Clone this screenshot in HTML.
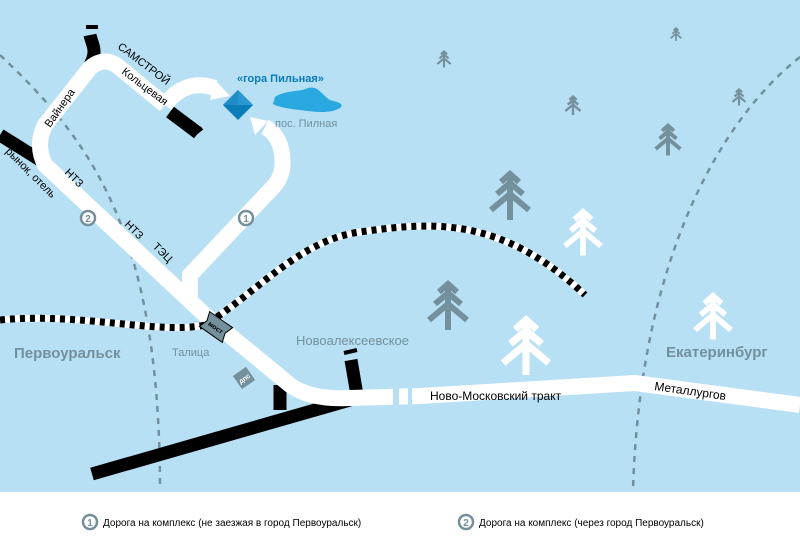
<!DOCTYPE html>
<html><head><meta charset="utf-8"><style>
body{margin:0;width:800px;height:555px;overflow:hidden;background:#fff}
svg{display:block}
text{font-family:"Liberation Sans",sans-serif}
</style></head><body>
<svg width="800" height="555" viewBox="0 0 800 555" xmlns="http://www.w3.org/2000/svg">
<defs>
<g id="tr"><path d="M0,4V50M-9,12L0,4L9,12M-13,24L0,13L13,24M-19,40L0,24L19,40" fill="none" stroke-width="6"/></g>
</defs>
<rect x="0" y="0" width="800" height="492" fill="#b7e0f4"/>
<!-- dashed boundaries -->
<g fill="none" stroke="#74909c" stroke-width="2.5" stroke-dasharray="6,6">
<path d="M0,55 C90,140 160,230 160,490"/>
<path d="M800,57 C720,120 640,260 633,490"/>
</g>
<!-- black roads -->
<g stroke="#000" stroke-width="13" fill="none">
<path d="M90,35 C92,45 98,50 90,65"/>
<path d="M0,135 L40,160"/>
<path d="M170,112 L198,133"/>
<path d="M92,474 L350,400"/>
<path d="M280,410 L280,385"/>
<path d="M357,395 L351,360"/>
</g>
<g stroke="#000" stroke-width="4">
<path d="M86,27 L98,27"/><path d="M192,136 L202,128"/><path d="M344,353 L357,350"/>
</g>
<!-- white roads -->
<g stroke="#fff" stroke-width="16" fill="none" stroke-linejoin="round">
<path d="M165,105 L120,68 Q105,55 90,68 L45,125 Q35,145 45,165 L205,315 L290,385 Q310,400 350,398 L420,396 L635,383 L800,405"/>
<path d="M165,105 Q185,78 215,88"/>
<path d="M190,300 L190,275 L275,185 Q287,170 280,145 Q275,132 265,127"/>
</g>
<path d="M215,80 L230,96 L210,100Z" fill="#fff"/>
<path d="M250,117 L255,135 L268,121Z" fill="#fff"/>
<!-- road gaps -->
<rect x="393" y="386" width="6" height="20" fill="#b7e0f4"/>
<rect x="408" y="386" width="4" height="20" fill="#b7e0f4"/>
<!-- railway -->
<path d="M0,320 C80,312 160,335 205,325 C260,290 300,240 360,232 C430,222 500,215 585,295" fill="none" stroke="#fff" stroke-width="7"/>
<path d="M0,320 C80,312 160,335 205,325 C260,290 300,240 360,232 C430,222 500,215 585,295" fill="none" stroke="#000" stroke-width="7" stroke-dasharray="5,5"/>
<!-- bridge -->
<g transform="translate(216,327) rotate(35)">
<path d="M-14,-9 L14,-9 L11,0 L14,9 L-14,9 L-11,0Z" fill="#74909c" stroke="#000" stroke-width="1"/>
<text x="0" y="3" font-size="7" font-weight="bold" text-anchor="middle" fill="#000">мост</text>
</g>
<g transform="translate(244,378) rotate(-35)">
<rect x="-8" y="-8" width="16" height="16" fill="#74909c"/>
<text x="0" y="3" font-size="7" font-weight="bold" text-anchor="middle" fill="#fff">дпс</text>
</g>
<!-- diamond -->
<path d="M238,90 L253,105 L238,120 L223,105Z" fill="#0a7cb8"/>
<path d="M238,90 L253,105 L238,105Z" fill="#2a98d0"/>
<path d="M238,90 L223,105 L238,105Z" fill="#1f8dc8"/>
<!-- lake -->
<path d="M275,97 C285,90 300,92 308,88 C318,85 322,95 330,100 C338,102 345,104 340,108 C330,114 315,112 300,110 C290,109 278,107 273,104Z" fill="#2aa8e0"/>
<!-- trees -->
<g stroke="#74909c">
<use href="#tr" transform="translate(510,170) scale(1)"/>
<use href="#tr" transform="translate(448,280) scale(1)"/>
<use href="#tr" transform="translate(668,123) scale(0.65)"/>
<use href="#tr" transform="translate(573,95) scale(0.4)"/>
<use href="#tr" transform="translate(444,50) scale(0.35)"/>
<use href="#tr" transform="translate(676,27) scale(0.28)"/>
<use href="#tr" transform="translate(739,88) scale(0.35)"/>
</g>
<g stroke="#fff">
<use href="#tr" transform="translate(583,208) scale(0.95)"/>
<use href="#tr" transform="translate(526,315) scale(1.2)"/>
<use href="#tr" transform="translate(713,292) scale(0.95)"/>
</g>
<!-- labels -->
<g font-size="11" fill="#000">
<text transform="translate(117,48) rotate(37)">САМСТРОЙ</text>
<text transform="translate(121,73) rotate(37)">Кольцевая</text>
<text transform="translate(50,128) rotate(-55)">Вайнера</text>
<text transform="translate(5,152) rotate(45)">рынок, отель</text>
<text transform="translate(64,173) rotate(45)">НТЗ</text>
<text transform="translate(124,225) rotate(45)">НТЗ</text>
<text transform="translate(152,247) rotate(45)">ТЭЦ</text>
<text x="430" y="400" font-size="12">Ново-Московский тракт</text>
<text transform="translate(654,390) rotate(8)" font-size="12">Металлургов</text>
</g>
<text x="237" y="82" font-size="11" font-weight="bold" fill="#0a7cb8">«гора Пильная»</text>
<text x="275" y="127" font-size="11" fill="#74909c">пос. Пилная</text>
<text x="296" y="345" font-size="13" fill="#74909c">Новоалексеевское</text>
<text x="172" y="356" font-size="11" fill="#74909c">Талица</text>
<text x="14" y="358" font-size="15" font-weight="bold" fill="#74909c">Первоуральск</text>
<text x="666" y="357" font-size="15" font-weight="bold" fill="#74909c">Екатеринбург</text>
<g font-size="10" font-weight="bold" fill="#74909c" text-anchor="middle">
<circle cx="88" cy="218" r="7" fill="#fff" stroke="#74909c" stroke-width="2.5"/><text x="88" y="222">2</text>
<circle cx="246" cy="218" r="7" fill="#fff" stroke="#74909c" stroke-width="2.5"/><text x="246" y="222">1</text>
<circle cx="90" cy="522" r="7" fill="#fff" stroke="#74909c" stroke-width="2.5"/><text x="90" y="526">1</text>
<circle cx="466" cy="522" r="7" fill="#fff" stroke="#74909c" stroke-width="2.5"/><text x="466" y="526">2</text>
</g>
<text x="103" y="526" font-size="10" fill="#000">Дорога на комплекс (не заезжая в город Первоуральск)</text>
<text x="479" y="526" font-size="10" fill="#000">Дорога на комплекс (через город Первоуральск)</text>
</svg>
</body></html>
